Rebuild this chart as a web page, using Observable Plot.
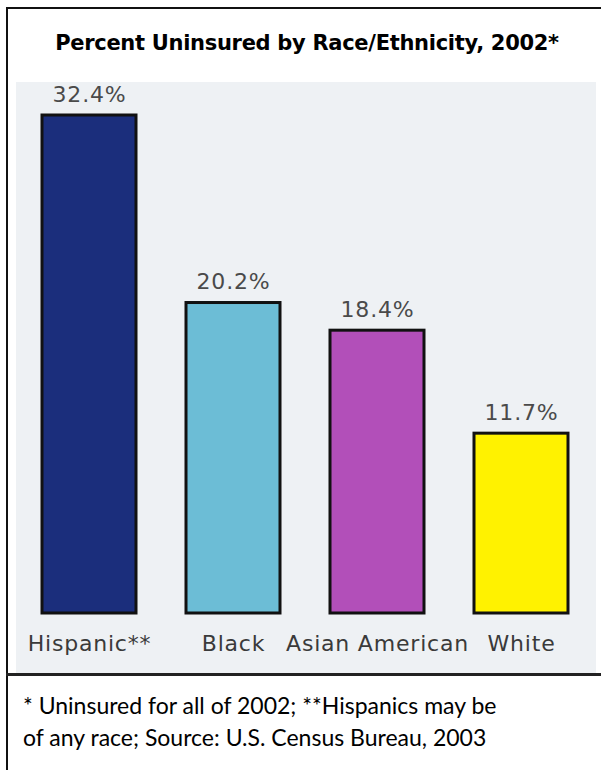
<!DOCTYPE html>
<html>
<head>
<meta charset="utf-8">
<script src="https://cdn.jsdelivr.net/npm/d3@7"></script>
<script src="https://cdn.jsdelivr.net/npm/@observablehq/plot@0.6"></script>
<style>
  html, body { margin: 0; padding: 0; background: #ffffff; }
  #page { position: relative; width: 601px; height: 770px; overflow: hidden; background: #fff; }
  #frameTop { position: absolute; left: 6px; top: 7px; width: 595px; height: 2px; background: #111; }
  #frameLeft { position: absolute; left: 6px; top: 7px; width: 2px; height: 763px; background: #111; }
  #divider { position: absolute; left: 6px; top: 673px; width: 595px; height: 3px; background: #222; }
  #title { position: absolute; left: 6px; top: 31px; width: 602px; text-align: center;
           font-family: "DejaVu Sans", sans-serif; font-weight: 700; font-size: 21px; color: #000; letter-spacing: -0.3px; }
  #chart { position: absolute; left: 16px; top: 82px; }
  #chart text { letter-spacing: 0.8px; }
  #caption { position: absolute; left: 23px; top: 689px; font-family: "Lato", sans-serif; font-size: 23px;
             line-height: 32px; color: #000; }
</style>
</head>
<body>
<div id="page">
  <div id="frameTop"></div>
  <div id="frameLeft"></div>
  <div id="title">Percent Uninsured by Race/Ethnicity, 2002*</div>
  <div id="chart"></div>
  <div id="divider"></div>
  <div id="caption">* Uninsured for all of 2002; **Hispanics may be<br>of any race; Source: U.S. Census Bureau, 2003</div>
</div>
<script>
const categories = ["Hispanic**", "Black", "Asian American", "White"];
const values = [32.4, 20.2, 18.4, 11.7];
const valueLabels = ["32.4%", "20.2%", "18.4%", "11.7%"];
const barColors = ["#1b2e7c", "#6cbdd6", "#b24fb9", "#fff200"];

const data = categories.map((c, i) => ({category: c, value: values[i], label: valueLabels[i], color: barColors[i]}));

const chart = Plot.plot({
  width: 580,
  height: 591,
  marginLeft: 25,
  marginRight: 27,
  marginTop: 33,
  marginBottom: 60,
  style: {background: "#eef1f4", fontFamily: "'DejaVu Sans', sans-serif", overflow: "visible"},
  x: {domain: categories, paddingInner: 0.35, paddingOuter: 0, label: null},
  y: {domain: [0, 32.4], axis: null},
  marks: [
    Plot.barY(data, {x: "category", y: "value", fill: "color", stroke: "#111", strokeWidth: 3}),
    Plot.text(data, {x: "category", y: "value", text: "label", dy: -21, fontSize: 22, fill: "#4a4a4a", lineAnchor: "middle"}),
    Plot.axisX({tickSize: 0, tickPadding: 22, fontSize: 22, fill: "#3a3a3a", label: null})
  ]
});
document.getElementById("chart").appendChild(chart);
</script>
</body>
</html>
